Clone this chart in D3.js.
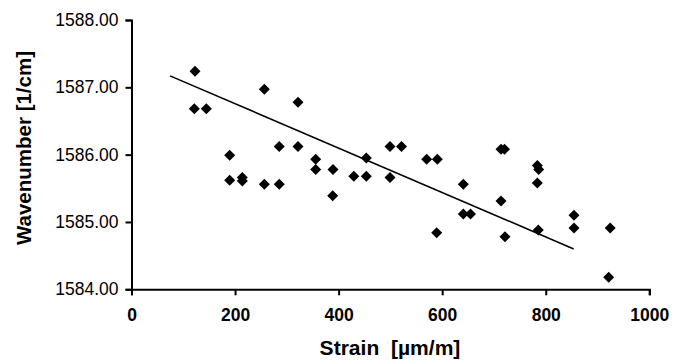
<!DOCTYPE html>
<html>
<head>
<meta charset="utf-8">
<script src="https://cdn.jsdelivr.net/npm/d3@7"></script>
<style>
  html, body { margin: 0; padding: 0; background: #fff; }
  svg { display: block; }
</style>
</head>
<body>
<script>
// Data
const strain = [122.6, 121.3, 144.5, 256.5, 321.6, 189.6, 189.6, 214.0, 214.0, 256.5,
  285.4, 285.4, 321.6, 355.7, 355.7, 389.2, 388.6, 429.3, 453.5, 453.5,
  499.2, 521.4, 499.2, 570.1, 590.6, 589.4, 640.8, 640.8, 654.7, 713.6,
  720.4, 713.6, 721.3, 783.7, 786.4, 783.7, 785.6, 854.6, 854.6, 924.5, 921.6];
const wavenumber = [1587.24, 1586.68, 1586.68, 1586.97, 1586.78, 1585.99, 1585.62, 1585.66, 1585.61, 1585.56,
  1585.56, 1586.12, 1586.12, 1585.93, 1585.78, 1585.78, 1585.39, 1585.68, 1585.68, 1585.95,
  1586.12, 1586.12, 1585.66, 1585.93, 1585.93, 1584.84, 1585.56, 1585.12, 1585.12, 1586.08,
  1586.08, 1585.31, 1584.78, 1585.84, 1585.78, 1585.58, 1584.88, 1585.10, 1584.91, 1584.91, 1584.18];
const trendStrain = [74.4, 854.0];
const trendWavenumber = [1587.17, 1584.60];
const xTicks = [0, 200, 400, 600, 800, 1000];
const yTicks = [1584, 1585, 1586, 1587, 1588];
const xTitle = "Strain  [\u00b5m/m]";
const yTitle = "Wavenumber [1/cm]";

const W = 673, H = 360;
const svg = d3.select("body").append("svg").attr("width", W).attr("height", H)
  .style("font-family", "'Liberation Sans', Arial, Helvetica, sans-serif");
svg.append("rect").attr("width", W).attr("height", H).attr("fill", "#fff");

const x = d3.scaleLinear().domain([0, 1000]).range([131.5, 649.3]);
const y = d3.scaleLinear().domain([1584, 1588]).range([289.3, 20]);

// axes
const xAxis = svg.append("g").attr("transform", `translate(0,${y(1584)})`)
  .call(d3.axisBottom(x).tickValues(xTicks).tickSize(6).tickPadding(13).tickFormat(d3.format("d")));
const yAxis = svg.append("g").attr("transform", `translate(${x(0)},0)`)
  .call(d3.axisLeft(y).tickValues(yTicks).tickSize(6).tickPadding(7).tickFormat(d3.format(".2f")));

[xAxis, yAxis].forEach(g => {
  g.selectAll("path.domain").attr("stroke", "#000").attr("stroke-width", 2);
  g.selectAll(".tick line").attr("stroke", "#000").attr("stroke-width", 2);
  g.selectAll(".tick text").attr("fill", "#000")
    .style("font-size", "17.5px").style("font-family", "'Liberation Sans', Arial, sans-serif");
});
xAxis.selectAll(".tick text").style("font-weight", "bold");

// trend line
const line = d3.line().x(d => x(d[0])).y(d => y(d[1]));
svg.append("path")
  .datum(trendStrain.map((s, i) => [s, trendWavenumber[i]]))
  .attr("d", line).attr("fill", "none").attr("stroke", "#000").attr("stroke-width", 1.6);

// diamond markers
const pts = strain.map((s, i) => [s, wavenumber[i]]);
const r = 5.5;
svg.append("g").selectAll("path").data(pts).join("path")
  .attr("transform", d => `translate(${x(d[0])},${y(d[1])})`)
  .attr("d", `M0,${-r}L${r},0L0,${r}L${-r},0Z`)
  .attr("fill", "#000");

// titles
svg.append("text")
  .attr("x", 390).attr("y", 355)
  .attr("text-anchor", "middle")
  .attr("transform", "translate(390,0) scale(1.08,1) translate(-390,0)")
  .style("font-size", "19.5px").style("font-weight", "bold")
  .style("white-space", "pre")
  .attr("xml:space", "preserve")
  .text(xTitle);

svg.append("text")
  .attr("transform", "translate(31,148) rotate(-90)")
  .attr("text-anchor", "middle")
  .style("font-size", "20.5px").style("font-weight", "bold")
  .text(yTitle);
</script>
</body>
</html>
